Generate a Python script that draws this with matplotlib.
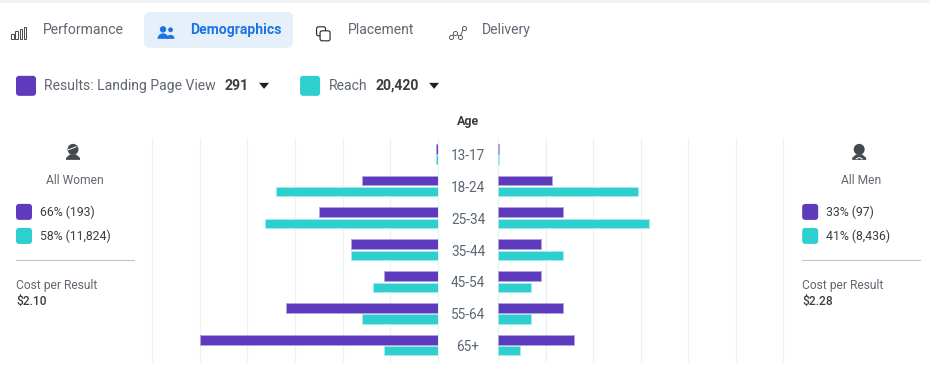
import numpy as np
import matplotlib
matplotlib.use("Agg")
import matplotlib.pyplot as plt
from matplotlib.patches import FancyBboxPatch, Polygon, Circle, Rectangle, Wedge

plt.rcParams['font.family'] = ['Roboto', 'DejaVu Sans']

W, H = 929, 379

# share of total, percent
ages = ['13-17', '18-24', '25-34', '35-44', '45-54', '55-64', '65+']
women_results = [0.15, 7, 11, 8, 5, 14, 22]
women_reach = [0.15, 15, 16, 8, 6, 7, 5]
men_results = [0.1, 5, 6, 4, 4, 6, 7]
men_reach = [0.1, 13, 14, 6, 3, 3, 2]

tabs = ['Performance', 'Placement', 'Delivery']
tab_x = [43, 348, 482]
women_lines = ['66% (193)', '58% (11,824)']
men_lines = ['33% (97)', '41% (8,436)']

PURPLE = '#5e3bbd'
PURPLE_EDGE = '#b3a2e2'
TEAL = '#30cfcf'
TEAL_EDGE = '#a2ecec'
GRID = '#eff0f2'
GREY = '#606770'
DARK = '#3a3d42'
ICON = '#444950'
BLUE = '#1b74e4'


def fs(px):
    return px * 72 / 100


def round_box(ax, x, y, w, h, color, r=3):
    ax.add_patch(FancyBboxPatch((x + r, y + r), w - 2 * r, h - 2 * r, boxstyle="round,pad=%s,rounding_size=%s" % (r, r),
                                fc=color, ec='none'))


def label(ax, x, y, s, size=14, color=GREY, weight='normal', ha='left'):
    ax.text(x, y + 1, s, fontsize=fs(size), color=color, fontweight=weight, ha=ha, va='center')


def person(ax, cx, top, female):
    # little head and shoulders icon
    ax.add_patch(Circle((cx, top + 5.5), 5.5, fc=ICON, ec='none'))
    ax.add_patch(Polygon([(cx - 7, top + 16), (cx - 7, top + 14), (cx - 3, top + 10.5), (cx + 3, top + 10.5),
                          (cx + 7, top + 14), (cx + 7, top + 16)], fc=ICON, ec='none'))
    if female:
        ax.plot([cx - 5, cx + 3], [top + 6, top + 3], color='white', lw=0.7)
    else:
        ax.plot([cx - 3, cx, cx + 3], [top + 15, top + 13.5, top + 15], color='white', lw=0.7)


def side_panel(ax, x, icon_x, title_x, title, lines, cost, female):
    person(ax, icon_x, 144, female)
    label(ax, title_x, 179, title, size=12, ha='center')
    for y, color, s in zip([204, 228], [PURPLE, TEAL], lines):
        round_box(ax, x, y, 16, 16, color)
        label(ax, x + 24, y + 7.5, s, size=12.3, color=DARK)
    ax.plot([x, x + 117.5], [260.5, 260.5], color='#bcc4cc', lw=0.8)
    label(ax, x, 284, 'Cost per Result', size=12)
    label(ax, x, 300, cost, size=12, color=DARK, weight='medium')


def bar_axes(left, right, results, reach, invert):
    ax = fig.add_axes([left / W, 1 - 361 / H, (right - left) / W, 223 / H])
    y = np.arange(len(ages))
    ax.barh(y - 0.2, results, height=0.31, color=PURPLE, edgecolor=PURPLE_EDGE, lw=0.7)
    ax.barh(y + 0.15, reach, height=0.29, color=TEAL, edgecolor=TEAL_EDGE, lw=0.7)
    ax.set_xlim(0, (right - left) / 10.84)
    if invert:
        ax.invert_xaxis()
    ax.set_ylim(6.47, -0.54)
    ax.set_xticks(np.arange(7) * 4.4)
    ax.set_yticks([])
    ax.tick_params(length=0, labelbottom=False)
    ax.grid(axis='x', color=GRID, lw=1, clip_on=False)
    ax.set_axisbelow(True)
    for s in ax.spines.values():
        s.set_visible(False)
    ax.patch.set_alpha(0)
    return ax


fig = plt.figure(figsize=((W + 0.2) / 100, (H + 0.2) / 100), dpi=100)
ui = fig.add_axes([0, 0, 1, 1])
ui.set_xlim(0, W)
ui.set_ylim(H, 0)
ui.axis('off')

# top strip
ui.add_patch(Rectangle((0, 0), W, 3.5, fc='#f0f1f1', ec='none'))

# tabs
round_box(ui, 144, 12, 149, 36, '#e6f0fb', r=6)
for x, s in zip(tab_x, tabs):
    label(ui, x, 29, s)
label(ui, 190, 29, 'Demographics', color=BLUE, weight='bold')

# performance icon
for x, top in zip([11, 15, 19.5, 23.5], [34, 31, 29, 27]):
    ui.add_patch(Rectangle((x, top), 2.5, 39 - top, fc='none', ec=ICON, lw=0.7))
# demographics icon
for cx, cy, r in [(163, 29.5, 3.2), (170.5, 30, 2.4)]:
    ui.add_patch(Circle((cx, cy), r, fc=BLUE, ec='none'))
ui.add_patch(Wedge((163, 39), 5.5, 180, 360, fc=BLUE, ec='none'))
ui.add_patch(Wedge((170.5, 39), 4, 180, 360, fc=BLUE, ec='none'))
# placement icon
ui.add_patch(FancyBboxPatch((316.5, 27), 9, 9, boxstyle="round,pad=0,rounding_size=2", fc='none', ec='#222', lw=0.8))
ui.add_patch(FancyBboxPatch((320, 31), 10, 10, boxstyle="round,pad=0,rounding_size=2", fc='white', ec='#222', lw=0.8))
# delivery icon
dx = [451, 455, 460, 463.5]
dy = [37.5, 33, 37, 28]
ui.plot(dx, dy, color=ICON, lw=0.6)
ui.plot(dx, dy, ls='', marker='o', ms=3, mfc='white', mec=ICON, mew=0.6)

# legend row
round_box(ui, 16, 76, 20, 20, PURPLE)
label(ui, 44, 85, 'Results: Landing Page View')
label(ui, 224, 85, '291', color=DARK, weight='bold')
round_box(ui, 300, 76, 20, 20, TEAL)
label(ui, 328.5, 85, 'Reach')
label(ui, 375, 85, '20,420', color=DARK, weight='bold')
for x in [259, 429]:
    ui.add_patch(Polygon([(x, 83), (x + 10, 83), (x + 5, 89)], fc='#1c1e21', ec='none'))

label(ui, 468, 120, 'Age', size=12.5, color=DARK, weight='bold', ha='center')

side_panel(ui, 16, 73, 75, 'All Women', women_lines, '$2.10', True)
side_panel(ui, 802, 859, 861, 'All Men', men_lines, '$2.28', False)

bar_axes(152, 438, women_results, women_reach, True)
bar_axes(498, 783, men_results, men_reach, False)

for i, s in enumerate(ages):
    label(ui, 468, 155 + 31.8 * i, s, size=13.5, color='#5a6472', ha='center')

plt.savefig("out.png", dpi=100)
